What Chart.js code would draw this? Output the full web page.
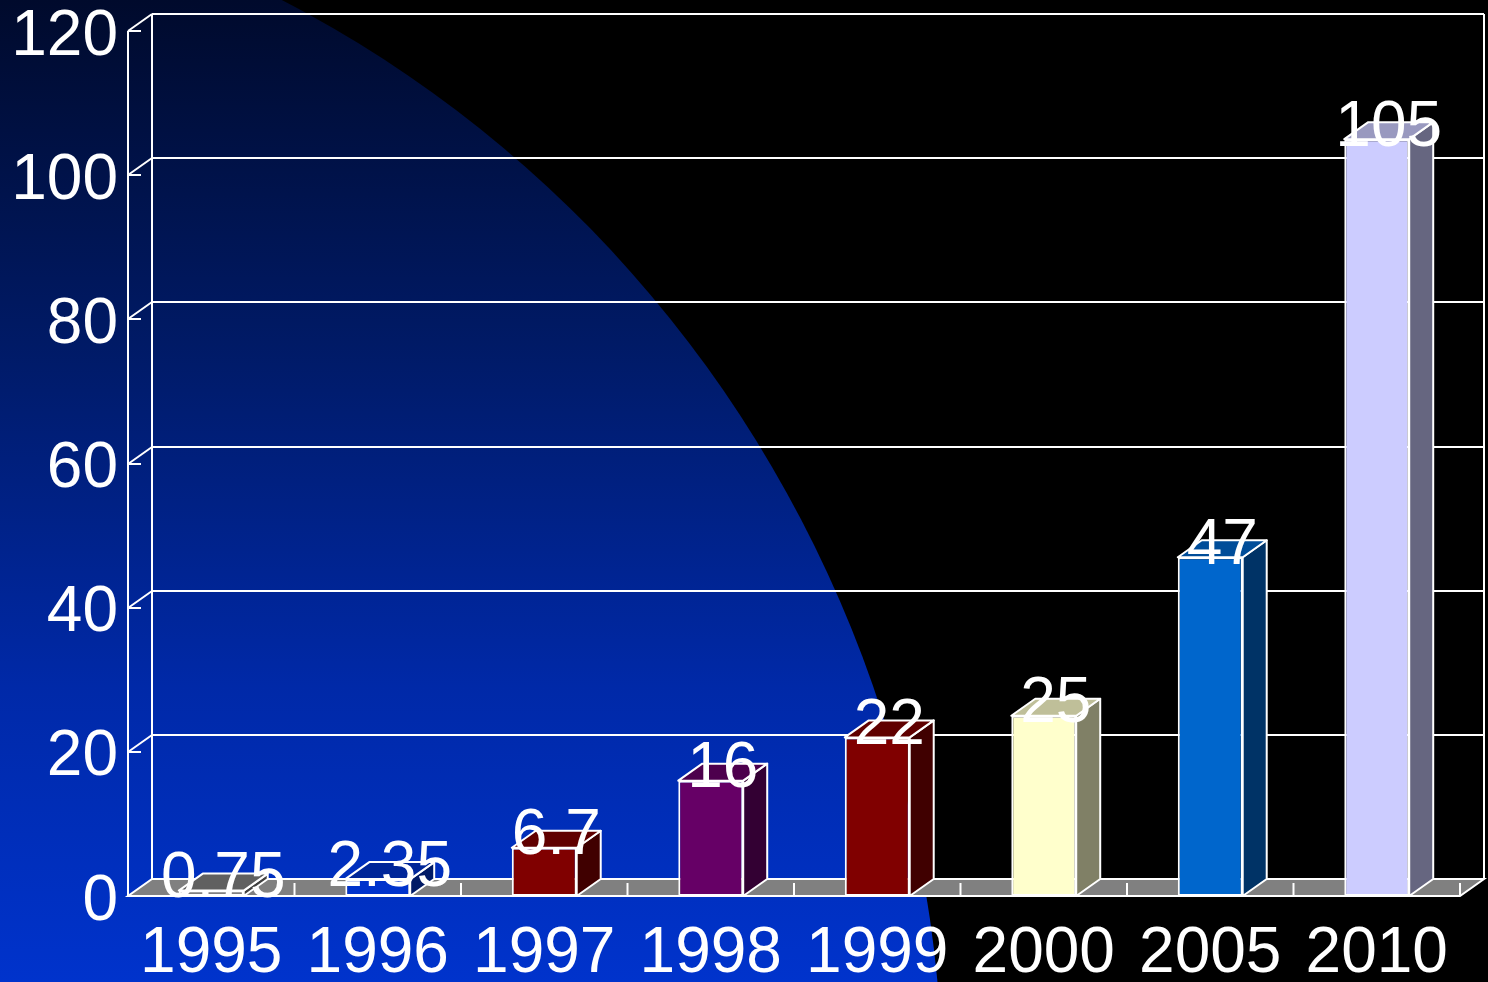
<!DOCTYPE html>
<html>
<head>
<meta charset="utf-8">
<title>Gráfico</title>
<script src="https://cdn.jsdelivr.net/npm/chart.js@4/dist/chart.umd.min.js"></script>
<style>
  html, body { margin: 0; padding: 0; background: #000; overflow: hidden; }
  canvas { display: block; }
</style>
</head>
<body>
<canvas id="grafico" width="1488" height="982"></canvas>
<script>
// dados do gráfico
const anos = ['1995', '1996', '1997', '1998', '1999', '2000', '2005', '2010'];
const valores = [0.75, 2.35, 6.7, 16, 22, 25, 47, 105];
const rotulosValores = ['0.75', '2.35', '6.7', '16', '22', '25', '47', '105'];
const ticksEixoY = [0, 20, 40, 60, 80, 100, 120];
const coresBarras = ['#808080', '#0033cc', '#800000', '#660066', '#800000', '#ffffcc', '#0066cc', '#ccccff'];

// profundidade do efeito 3D
const DX = 24;
const DY = -17;
const FONTE = '64px "Liberation Sans", Arial, sans-serif';

function escurecer(hex, f) {
  const n = parseInt(hex.slice(1), 16);
  const r = Math.round(((n >> 16) & 255) * f);
  const g = Math.round(((n >> 8) & 255) * f);
  const b = Math.round((n & 255) * f);
  return 'rgb(' + r + ',' + g + ',' + b + ')';
}

function linha(ctx, x1, y1, x2, y2) {
  ctx.beginPath();
  ctx.moveTo(x1, y1);
  ctx.lineTo(x2, y2);
  ctx.stroke();
}

// fundo preto com o arco azul no canto inferior esquerdo
const pluginFundo = {
  id: 'fundo',
  beforeDraw(chart) {
    const ctx = chart.ctx;
    ctx.save();
    ctx.fillStyle = '#000';
    ctx.fillRect(0, 0, chart.width, chart.height);
    const g = ctx.createLinearGradient(0, 0, 0, chart.height);
    g.addColorStop(0, '#000a2c');
    g.addColorStop(0.35, '#001a66');
    g.addColorStop(0.7, '#0029a8');
    g.addColorStop(1, '#0033cc');
    ctx.fillStyle = g;
    ctx.beginPath();
    ctx.ellipse(-260, 1100, 1203, 1232, 0, 0, Math.PI * 2);
    ctx.fill();
    ctx.restore();
  }
};

// paredes, piso e grade
const pluginParedes = {
  id: 'paredes',
  beforeDatasetsDraw(chart) {
    const ctx = chart.ctx;
    const { left, right, bottom } = chart.chartArea;
    const escY = chart.scales.y;
    const escX = chart.scales.x;
    const topo = escY.getPixelForValue(ticksEixoY[ticksEixoY.length - 1]);
    ctx.save();
    ctx.strokeStyle = '#fff';
    ctx.lineWidth = 2;

    // piso
    ctx.fillStyle = '#808080';
    ctx.beginPath();
    ctx.moveTo(left, bottom);
    ctx.lineTo(right, bottom);
    ctx.lineTo(right + DX, bottom + DY);
    ctx.lineTo(left + DX, bottom + DY);
    ctx.closePath();
    ctx.fill();
    ctx.stroke();

    // marcas no piso entre categorias
    for (let i = 1; i <= anos.length; i++) {
      let xb;
      if (i === anos.length) xb = right;
      else xb = (escX.getPixelForValue(i - 1) + escX.getPixelForValue(i)) / 2;
      linha(ctx, xb, bottom, xb, bottom - 13);
    }

    // linhas de grade na parede do fundo
    ticksEixoY.forEach(v => {
      const yp = Math.round(escY.getPixelForValue(v));
      if (v > 0) {
        linha(ctx, left + DX, yp + DY, right + DX, yp + DY);
        linha(ctx, left, yp, left + DX, yp + DY);
      }
      linha(ctx, left, yp, left + 13, yp);
    });

    // arestas verticais
    linha(ctx, left, topo, left, bottom);
    linha(ctx, left + DX, topo + DY, left + DX, bottom + DY);
    linha(ctx, right + DX, topo + DY, right + DX, bottom + DY);
    ctx.restore();
  },

  afterDatasetsDraw(chart) {
    const ctx = chart.ctx;
    const meta = chart.getDatasetMeta(0);
    ctx.save();
    ctx.strokeStyle = '#fff';
    ctx.lineWidth = 2;
    ctx.lineJoin = 'round';
    meta.data.forEach((bar, i) => {
      const p = bar.getProps(['x', 'y', 'width', 'base'], true);
      const esq = p.x - p.width / 2;
      const dir = p.x + p.width / 2;
      // lateral
      ctx.fillStyle = escurecer(coresBarras[i], 0.5);
      ctx.beginPath();
      ctx.moveTo(dir, p.y);
      ctx.lineTo(dir + DX, p.y + DY);
      ctx.lineTo(dir + DX, p.base + DY);
      ctx.lineTo(dir, p.base);
      ctx.closePath();
      ctx.fill();
      ctx.stroke();
      // topo
      ctx.fillStyle = escurecer(coresBarras[i], 0.75);
      ctx.beginPath();
      ctx.moveTo(esq, p.y);
      ctx.lineTo(esq + DX, p.y + DY);
      ctx.lineTo(dir + DX, p.y + DY);
      ctx.lineTo(dir, p.y);
      ctx.closePath();
      ctx.fill();
      ctx.stroke();
    });
    ctx.restore();
  },

  afterDraw(chart) {
    const ctx = chart.ctx;
    const { left, bottom } = chart.chartArea;
    const escY = chart.scales.y;
    const escX = chart.scales.x;
    ctx.save();
    ctx.fillStyle = '#fff';
    ctx.font = FONTE;
    ctx.textBaseline = 'middle';

    // rótulos do eixo Y
    ctx.textAlign = 'right';
    ticksEixoY.forEach(v => {
      ctx.fillText(String(v), left - 10, escY.getPixelForValue(v) + 6);
    });

    // rótulos das categorias
    ctx.textAlign = 'center';
    anos.forEach((a, i) => {
      ctx.fillText(a, escX.getPixelForValue(i), bottom + 58);
    });

    // rótulos de valores
    const meta = chart.getDatasetMeta(0);
    meta.data.forEach((bar, i) => {
      const p = bar.getProps(['x', 'y'], true);
      ctx.fillText(rotulosValores[i], p.x + DX / 2, p.y - 11);
    });
    ctx.restore();
  }
};

const canvas = document.getElementById('grafico');
window.graficoBarras = new Chart(canvas, {
  type: 'bar',
  data: {
    labels: anos,
    datasets: [{
      data: valores,
      backgroundColor: coresBarras,
      borderColor: '#fff',
      borderWidth: 2,
      borderSkipped: false,
      categoryPercentage: 1,
      barPercentage: 0.39
    }]
  },
  options: {
    responsive: false,
    animation: false,
    layout: {
      padding: { left: 128, right: 28, top: 31, bottom: 86 }
    },
    scales: {
      x: { display: false },
      y: {
        display: false,
        min: ticksEixoY[0],
        max: ticksEixoY[ticksEixoY.length - 1],
        ticks: { stepSize: 20 }
      }
    },
    plugins: {
      legend: { display: false },
      tooltip: { enabled: false }
    }
  },
  plugins: [pluginFundo, pluginParedes]
});
</script>
</body>
</html>
